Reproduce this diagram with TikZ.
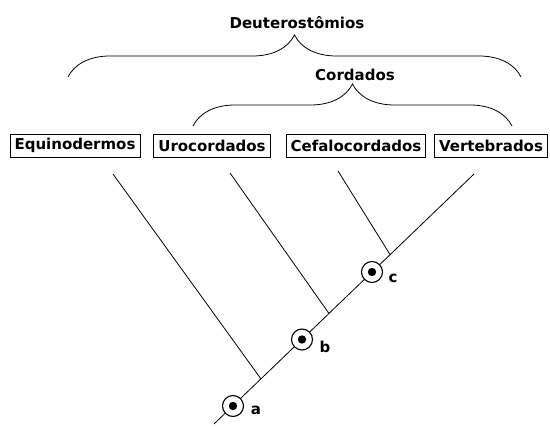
\documentclass[tikz,border=0pt]{standalone}
\usepackage{fontspec}
\setmainfont{DejaVu Sans}
\usetikzlibrary{decorations.pathreplacing}

\begin{document}
\begin{tikzpicture}[
    x=1pt, y=-1pt,
    every node/.style={font=\fontsize{15}{17}\selectfont\bfseries},
    taxon/.style={draw, rectangle, line width=0.9pt, inner xsep=4.5pt, inner ysep=0pt, minimum height=23pt},
    branch/.style={line width=0.8pt},
    trait/.style={draw, circle, fill=white, line width=1.1pt, minimum size=21pt, inner sep=0pt,
        path picture={\fill[black] (path picture bounding box.center) circle (4.2pt);}},
    clade/.style={decorate, decoration={brace, amplitude=42pt}, line width=0.8pt}
]
\useasboundingbox (0,0) rectangle (550,427);

% Taxa (top row)
\node[taxon] (equino) at (75,145.5) {Equinodermos};
\node[taxon] (uro) at (212,145.5) {Urocordados};
\node[taxon] (cefalo) at (356,145.5) {Cefalocordados};
\node[taxon] (verte) at (491,145.5) {Vertebrados};

% Group labels and braces
\node (deutero) at (297,23) {Deuterostômios};
\node (cordados) at (355,75) {Cordados};
\coordinate (deuteroL) at (68,77);
\coordinate (deuteroR) at (521,77);
\coordinate (cordadosL) at (193,126);
\coordinate (cordadosR) at (512,126);
\draw[clade] (deuteroL) -- (deuteroR);
\draw[clade] (cordadosL) -- (cordadosR);

% Main stem
\coordinate (root) at (214,424);
\coordinate (top) at (474,174);
\draw[branch] (root) -- (top);

% Side branches
\coordinate (equinoTop) at (113,174);
\coordinate (uroTop) at (230,173);
\coordinate (cefaloTop) at (338,171);
\coordinate (equinoJoin) at (261,379);
\coordinate (uroJoin) at (329,313.5);
\coordinate (cefaloJoin) at (390,254.5);
\draw[branch] (equinoTop) -- (equinoJoin);
\draw[branch] (uroTop) -- (uroJoin);
\draw[branch] (cefaloTop) -- (cefaloJoin);

% Shared characters on the stem
\node[trait] (a) at (233,406) {};
\node[trait] (b) at (302,339.5) {};
\node[trait] (c) at (372,272) {};
\node (alabel) at (256,410) {a};
\node (blabel) at (325,347) {b};
\node (clabel) at (393,278) {c};

\end{tikzpicture}
\end{document}
